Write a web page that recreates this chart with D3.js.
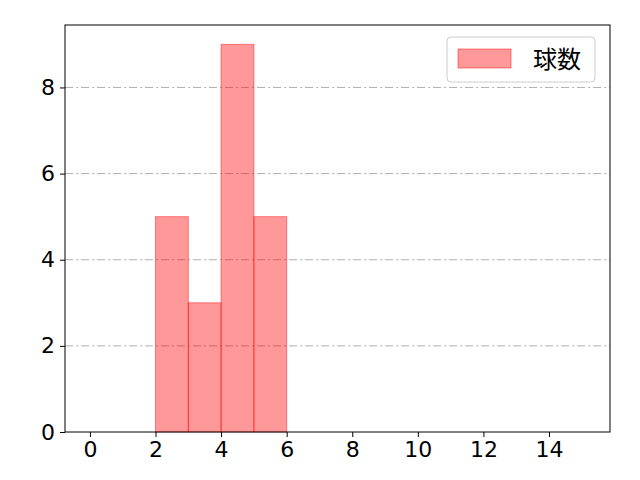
<!DOCTYPE html>
<html>
<head>
<meta charset="utf-8">
<script src="https://cdn.jsdelivr.net/npm/d3@7"></script>
<style>
body { margin: 0; background: #fff; }
text { font-family: "Noto Sans CJK JP", "Noto Sans", sans-serif; }
.tick text { font-family: "DejaVu Sans", sans-serif; }
</style>
</head>
<body>
<div id="chart"></div>
<script>
// histogram bins and counts
var binStarts = [2, 3, 4, 5];
var binWidth = 1;
var counts = [5, 3, 9, 5];
var xTicks = [0, 2, 4, 6, 8, 10, 12, 14];
var yTicks = [0, 2, 4, 6, 8];
var seriesName = "球数";

var svgWidth = 640;
var svgHeight = 480;
var margin = { top: 25, right: 30, bottom: 48, left: 65 };
var width = svgWidth - margin.left - margin.right;
var height = svgHeight - margin.top - margin.bottom;

var svg = d3.select("#chart").append("svg")
    .attr("width", svgWidth)
    .attr("height", svgHeight);

var chartGroup = svg.append("g")
    .attr("transform", `translate(${margin.left}, ${margin.top})`);

var x = d3.scaleLinear().domain([-0.76, 15.86]).range([0, width]);
var y = d3.scaleLinear().domain([0, 9.45]).range([height, 0]);

// grid lines
chartGroup.selectAll(".grid")
    .data(yTicks.filter(d => d > 0))
    .enter()
    .append("line")
    .attr("x1", 0)
    .attr("x2", width)
    .attr("y1", d => y(d))
    .attr("y2", d => y(d))
    .attr("stroke", "#b0b0b0")
    .attr("stroke-width", 1)
    .attr("stroke-dasharray", "8,3,2,3");

// bars
chartGroup.selectAll(".bar")
    .data(counts)
    .enter()
    .append("rect")
    .attr("x", (d, i) => x(binStarts[i]))
    .attr("width", (d, i) => x(binStarts[i] + binWidth) - x(binStarts[i]))
    .attr("y", d => y(d))
    .attr("height", d => height - y(d))
    .attr("fill", "rgb(255,0,0)")
    .attr("fill-opacity", 0.4)
    .attr("stroke", "rgba(255,0,0,0.45)")
    .attr("stroke-width", 1);

// axes
var xAxis = chartGroup.append("g")
    .attr("transform", `translate(0, ${height})`)
    .call(d3.axisBottom(x).tickValues(xTicks).tickSize(5).tickPadding(4).tickFormat(d3.format("d")));

var yAxis = chartGroup.append("g")
    .call(d3.axisLeft(y).tickValues(yTicks).tickSize(5).tickPadding(5).tickFormat(d3.format("d")));

[xAxis, yAxis].forEach(function(a) {
    a.select(".domain").remove();
    a.selectAll("line").attr("stroke", "#000").attr("stroke-width", 1);
    a.selectAll("text").attr("fill", "#000").style("font-size", "22px");
});

// frame
chartGroup.append("rect")
    .attr("width", width)
    .attr("height", height)
    .attr("fill", "none")
    .attr("stroke", "#000")
    .attr("stroke-width", 1);

// legend
var legend = chartGroup.append("g")
    .attr("transform", `translate(${width - 163}, 12)`);

legend.append("rect")
    .attr("width", 148)
    .attr("height", 45)
    .attr("rx", 4)
    .attr("fill", "#fff")
    .attr("fill-opacity", 0.8)
    .attr("stroke", "#ccc");

legend.append("rect")
    .attr("x", 11)
    .attr("y", 12)
    .attr("width", 53)
    .attr("height", 19)
    .attr("fill", "rgb(255,0,0)")
    .attr("fill-opacity", 0.4)
    .attr("stroke", "rgba(255,0,0,0.45)");

legend.append("text")
    .attr("x", 86)
    .attr("y", 31)
    .style("font-size", "24px")
    .attr("fill", "#000")
    .text(seriesName);
</script>
</body>
</html>
